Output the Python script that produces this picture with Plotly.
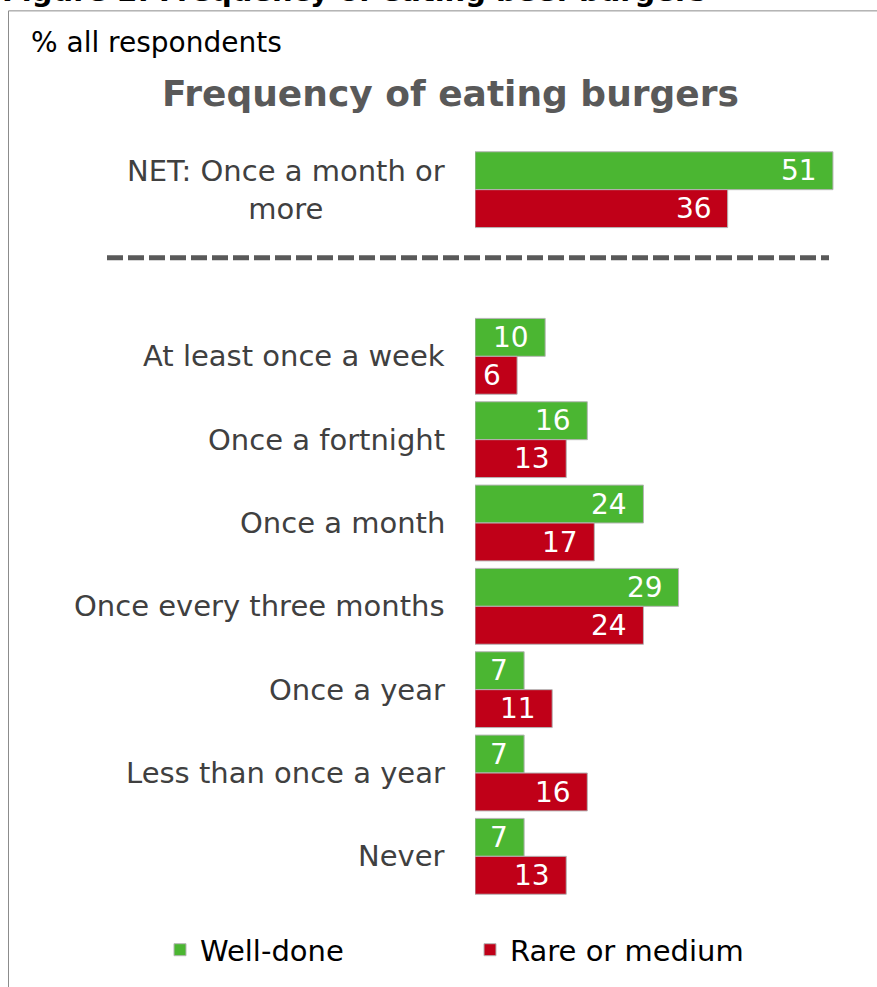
import plotly.graph_objects as go

# Survey data: % of all respondents, by preferred burger doneness
categories = [
    "NET: Once a month or<br>more",
    "At least once a week",
    "Once a fortnight",
    "Once a month",
    "Once every three months",
    "Once a year",
    "Less than once a year",
    "Never",
]
well_done = [51, 10, 16, 24, 29, 7, 7, 7]
rare_or_medium = [36, 6, 13, 17, 24, 11, 16, 13]
series_names = ["Well-done", "Rare or medium"]

GREEN = "#4bb632"
RED = "#c00018"
FONT = "DejaVu Sans"

# Figure geometry (pixels)
W, H = 877, 987
PL, PR, PT, PB = 475, 847, 148, 900
XMAX = 53


def px_x(p):
    return (p - PL) / (PR - PL)


def px_y(p):
    return (PB - p) / (PB - PT)


# NET row first, an empty slot for the separator, then the detailed rows
slots = [0] + [i + 2 for i in range(len(categories) - 1)]

fig = go.Figure()
for name, vals, color in [(series_names[0], well_done, GREEN),
                          (series_names[1], rare_or_medium, RED)]:
    fig.add_trace(go.Bar(
        y=slots, x=vals, name=name, orientation="h",
        marker=dict(color=color, line=dict(color="#b5b5b5", width=1)),
        hoverinfo="x+name",
    ))

annotations = []
# Category labels
for cat, s in zip(categories, slots):
    annotations.append(dict(
        x=px_x(447), xref="paper", y=s, yref="y", text=cat,
        xanchor="right", yanchor="middle", align="center", showarrow=False,
        font=dict(family=FONT, size=29, color="#404040"),
    ))
# Value labels inside bar ends
for vals, shift in [(well_done, 19), (rare_or_medium, -19)]:
    for v, s in zip(vals, slots):
        annotations.append(dict(
            x=v, y=s, xref="x", yref="y", text=str(v), xanchor="right",
            yanchor="middle", xshift=-14, yshift=shift, showarrow=False,
            font=dict(family=FONT, size=28, color="white"),
        ))
# Headings
annotations.append(dict(
    x=px_x(0), xref="paper", y=px_y(-9), yref="paper", xanchor="left",
    yanchor="middle", showarrow=False,
    text="<b>Figure 2: Frequency of eating beef burgers</b>",
    font=dict(family=FONT, size=29, color="#000000"),
))
annotations.append(dict(
    x=px_x(29), xref="paper", y=px_y(42), yref="paper", xanchor="left",
    yanchor="middle", showarrow=False, text="% all respondents",
    font=dict(family=FONT, size=28, color="#000000"),
))
annotations.append(dict(
    x=px_x(450), xref="paper", y=px_y(93), yref="paper", xanchor="center",
    yanchor="middle", showarrow=False,
    text="<b>Frequency of eating burgers</b>",
    font=dict(family=FONT, size=36, color="#595959"),
))

shapes = [
    # outer frame
    dict(type="rect", xref="paper", yref="paper",
         x0=px_x(8.5), x1=px_x(900), y0=px_y(10.5), y1=px_y(1000),
         line=dict(color="#8c8c8c", width=1), fillcolor="rgba(0,0,0,0)"),
    # dashed separator under the NET row
    dict(type="line", xref="paper", yref="paper",
         x0=px_x(107), x1=px_x(829), y0=px_y(258), y1=px_y(258),
         line=dict(color="#595959", width=5, dash="16px,5px")),
]

fig.update_layout(
    width=W, height=H,
    margin=dict(l=PL, r=W - PR, t=PT, b=H - PB),
    paper_bgcolor="white", plot_bgcolor="white",
    barmode="group", bargap=0.09, bargroupgap=0,
    font=dict(family=FONT, size=28, color="#404040"),
    xaxis=dict(range=[0, XMAX], visible=False, fixedrange=True),
    yaxis=dict(range=[8.5, -0.5], visible=False, fixedrange=True),
    showlegend=True,
    legend=dict(
        orientation="h", x=px_x(160), xanchor="left",
        y=px_y(952), yanchor="middle",
        font=dict(family=FONT, size=29, color="#000000"),
        entrywidth=265, entrywidthmode="pixels",
        traceorder="normal", bgcolor="rgba(0,0,0,0)",
    ),
    annotations=annotations,
    shapes=shapes,
)

fig.write_html("out.html")
